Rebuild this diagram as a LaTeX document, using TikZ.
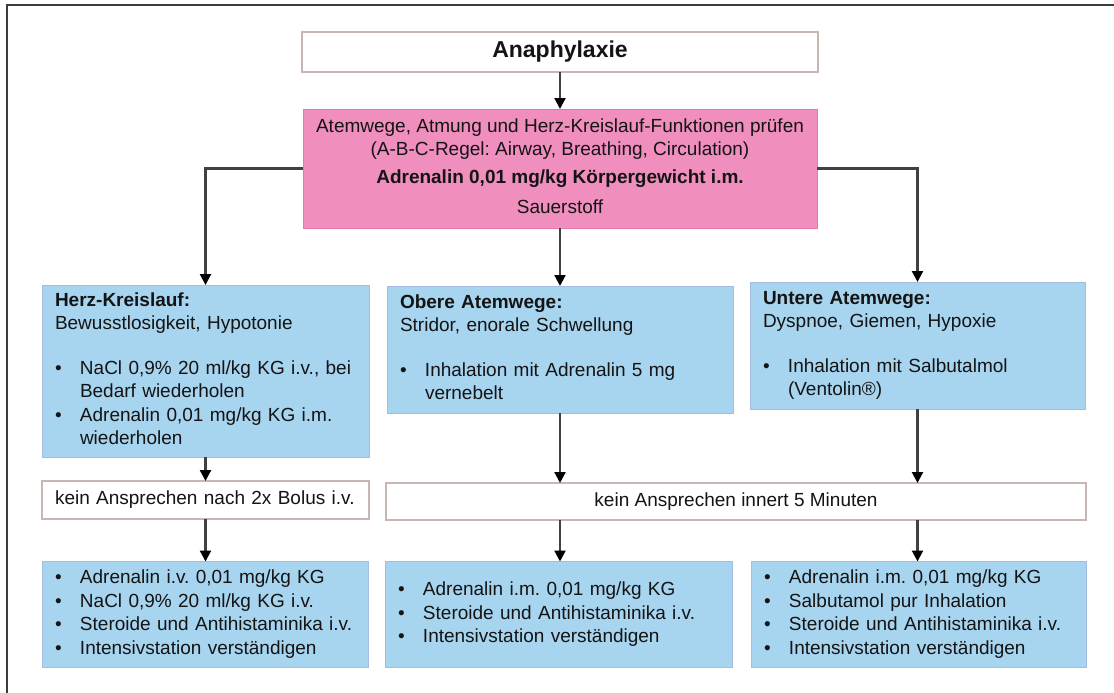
\documentclass[tikz,border=0pt]{standalone}
\usepackage{fontspec}
\setmainfont{Liberation Sans}
\usetikzlibrary{arrows.meta}
\frenchspacing
\definecolor{pinkfill}{RGB}{240,142,190}
\definecolor{pinkdraw}{RGB}{226,122,172}
\definecolor{bluefill}{RGB}{167,212,239}
\definecolor{bluedraw}{RGB}{165,188,226}
\definecolor{graydraw}{RGB}{200,182,178}
\definecolor{txt}{RGB}{20,20,20}
\definecolor{linec}{RGB}{65,65,65}
\definecolor{framec}{RGB}{60,60,60}
\newcommand{\bl}{\textbullet}
\newcommand{\hd}[1]{\multicolumn{2}{@{}l@{}}{#1}}
\begin{document}
\begin{tikzpicture}[x=1pt,y=-1pt,
  base/.style={font=\fontsize{19}{23.5}\selectfont, text=txt, inner sep=0pt, outer sep=0pt},
  whitebox/.style={base, draw=graydraw, line width=1.8pt, fill=white},
  pinkbox/.style={base, draw=pinkdraw, line width=1pt, fill=pinkfill, align=center},
  bluebox/.style={base, draw=bluedraw, line width=1pt, fill=bluefill, align=left, inner xsep=13pt},
  arr/.style={draw=linec, line width=2.2pt, -{Triangle[width=11pt,length=11pt,color=black]}}
]
\useasboundingbox (0,0) rectangle (1114,693);
\draw[framec, line width=2.2pt] (7,693) -- (7,5) -- (1114,5);

\node[whitebox, minimum width=516pt, minimum height=40pt] (T) at (560,52)
  {\fontsize{23}{27}\selectfont\bfseries Anaphylaxie};

\node[pinkbox, minimum width=514pt, minimum height=119pt] (P) at (560,168.5)
  {\begin{tabular}{@{}c@{}}
   Atemwege, Atmung und Herz-Kreislauf-Funktionen prüfen\\
   (A-B-C-Regel: Airway, Breathing, Circulation)\\[4pt]
   \textbf{Adrenalin 0,01 mg/kg Körpergewicht i.m.}\\[7pt]
   Sauerstoff
   \end{tabular}};

\node[bluebox, text width=301pt, minimum height=172pt] (L1) at (205.5,371)
  {\begin{tabular}{@{}p{25pt}@{}l@{}}
   \hd{\textbf{Herz-Kreislauf:}}\\
   \hd{Bewusstlosigkeit, Hypotonie}\\[21pt]
   \bl & NaCl 0,9\% 20 ml/kg KG i.v., bei\\
       & Bedarf wiederholen\\
   \bl & Adrenalin 0,01 mg/kg KG i.m.\\
       & wiederholen
   \end{tabular}};

\node[bluebox, text width=320pt, minimum height=127pt] (M1) at (560,349.5)
  {\begin{tabular}{@{}p{25pt}@{}l@{}}
   \hd{\textbf{Obere Atemwege:}}\\
   \hd{Stridor, enorale Schwellung}\\[21pt]
   \bl & Inhalation mit Adrenalin 5 mg\\
       & vernebelt
   \end{tabular}};

\node[bluebox, text width=309pt, minimum height=127pt] (R1) at (917.5,345.5)
  {\begin{tabular}{@{}p{25pt}@{}l@{}}
   \hd{\textbf{Untere Atemwege:}}\\
   \hd{Dyspnoe, Giemen, Hypoxie}\\[21pt]
   \bl & Inhalation mit Salbutalmol\\
       & (Ventolin®)
   \end{tabular}};

\node[whitebox, align=left, inner xsep=13pt, text width=301pt, minimum height=38pt] (L2) at (205.5,500)
  {kein Ansprechen nach 2x Bolus i.v.};

\node[whitebox, minimum width=700pt, minimum height=37pt] (M2) at (736,501.5)
  {kein Ansprechen innert 5 Minuten};

\node[bluebox, text width=300pt, minimum height=106pt] (L3) at (205,614.5)
  {\begin{tabular}{@{}p{25pt}@{}l@{}}
   \bl & Adrenalin i.v. 0,01 mg/kg KG\\
   \bl & NaCl 0,9\% 20 ml/kg KG i.v.\\
   \bl & Steroide und Antihistaminika i.v.\\
   \bl & Intensivstation verständigen
   \end{tabular}};

\node[bluebox, text width=321pt, minimum height=106pt] (M3) at (558.5,614.5)
  {\begin{tabular}{@{}p{25pt}@{}l@{}}
   \bl & Adrenalin i.m. 0,01 mg/kg KG\\
   \bl & Steroide und Antihistaminika i.v.\\
   \bl & Intensivstation verständigen
   \end{tabular}};

\node[bluebox, text width=309pt, minimum height=106pt] (R3) at (918.5,614.5)
  {\begin{tabular}{@{}p{25pt}@{}l@{}}
   \bl & Adrenalin i.m. 0,01 mg/kg KG\\
   \bl & Salbutamol pur Inhalation\\
   \bl & Steroide und Antihistaminika i.v.\\
   \bl & Intensivstation verständigen
   \end{tabular}};

\draw[arr] (T.south) -- (P.north);
\draw[arr] (P.west) -| (L1.north);
\draw[arr] (P.south) -- (M1.north);
\draw[arr] (P.east) -| (R1.north);
\draw[arr] (L1.south) -- (L2.north);
\draw[arr] (L2.south) -- (L3.north -| L2.south);
\draw[arr] (M1.south) -- (M2.north -| M1.south);
\draw[arr] (R1.south) -- (M2.north -| R1.south);
\draw[arr] (M2.south -| M1.south) -- (M3.north -| M1.south);
\draw[arr] (M2.south -| R1.south) -- (R3.north -| R1.south);
\end{tikzpicture}
\end{document}
